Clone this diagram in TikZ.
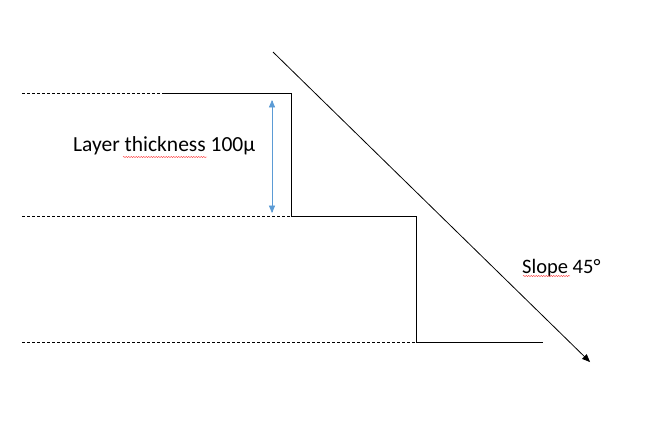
\documentclass[tikz,border=0pt]{standalone}
\usepackage{fontspec}
\setmainfont{Carlito}
\usepackage{xcolor}
\usetikzlibrary{arrows,decorations.pathmorphing}
\definecolor{arrowblue}{RGB}{91,155,213}
\begin{document}
\begin{tikzpicture}
			[line cap=butt,line join=miter,>=triangle 45,x=1bp,y=-1bp]
			\useasboundingbox (0,0) rectangle (650,423);
			\coordinate (topleft) at (163,93);
			\coordinate (stepa) at (291,93);
			\coordinate (stepb) at (291,216);
			\coordinate (stepc) at (416,216);
			\coordinate (stepd) at (416,342);
			\coordinate (stepe) at (543,342);
			\coordinate (slopestart) at (273,52);
			\coordinate (slopeend) at (590,362);
			\draw [line width=0.6bp,dash pattern=on 3bp off 2bp] (22,93) -- (topleft);
			\draw [line width=0.6bp,dash pattern=on 3bp off 2bp] (22,216) -- (stepb);
			\draw [line width=0.6bp,dash pattern=on 3bp off 2bp] (22,342) -- (472,342);
			\draw [line width=0.8bp] (topleft) -- (stepa) -- (stepb) -- (stepc) -- (stepd) -- (stepe);
			\draw [line width=0.8bp,->] (slopestart) -- (slopeend);
			\draw [line width=0.7bp,arrowblue,<->] (272,100) -- (272,213);
			\node [anchor=base west,inner sep=0pt,font=\fontsize{21.5bp}{26bp}\selectfont] (thicklabel) at (73,151) {Layer thickness 100µ};
			\node [anchor=base west,inner sep=0pt,font=\fontsize{20.5bp}{25bp}\selectfont] (slopelabel) at (522,273) {Slope 45°};
			\draw [red!80,line width=0.4bp,decorate,decoration={snake,amplitude=0.6bp,segment length=2.5bp}] (123,157) -- (207,157);
			\draw [red!80,line width=0.4bp,decorate,decoration={snake,amplitude=0.6bp,segment length=2.5bp}] (523,276) -- (570,276);
		\end{tikzpicture}
\end{document}
